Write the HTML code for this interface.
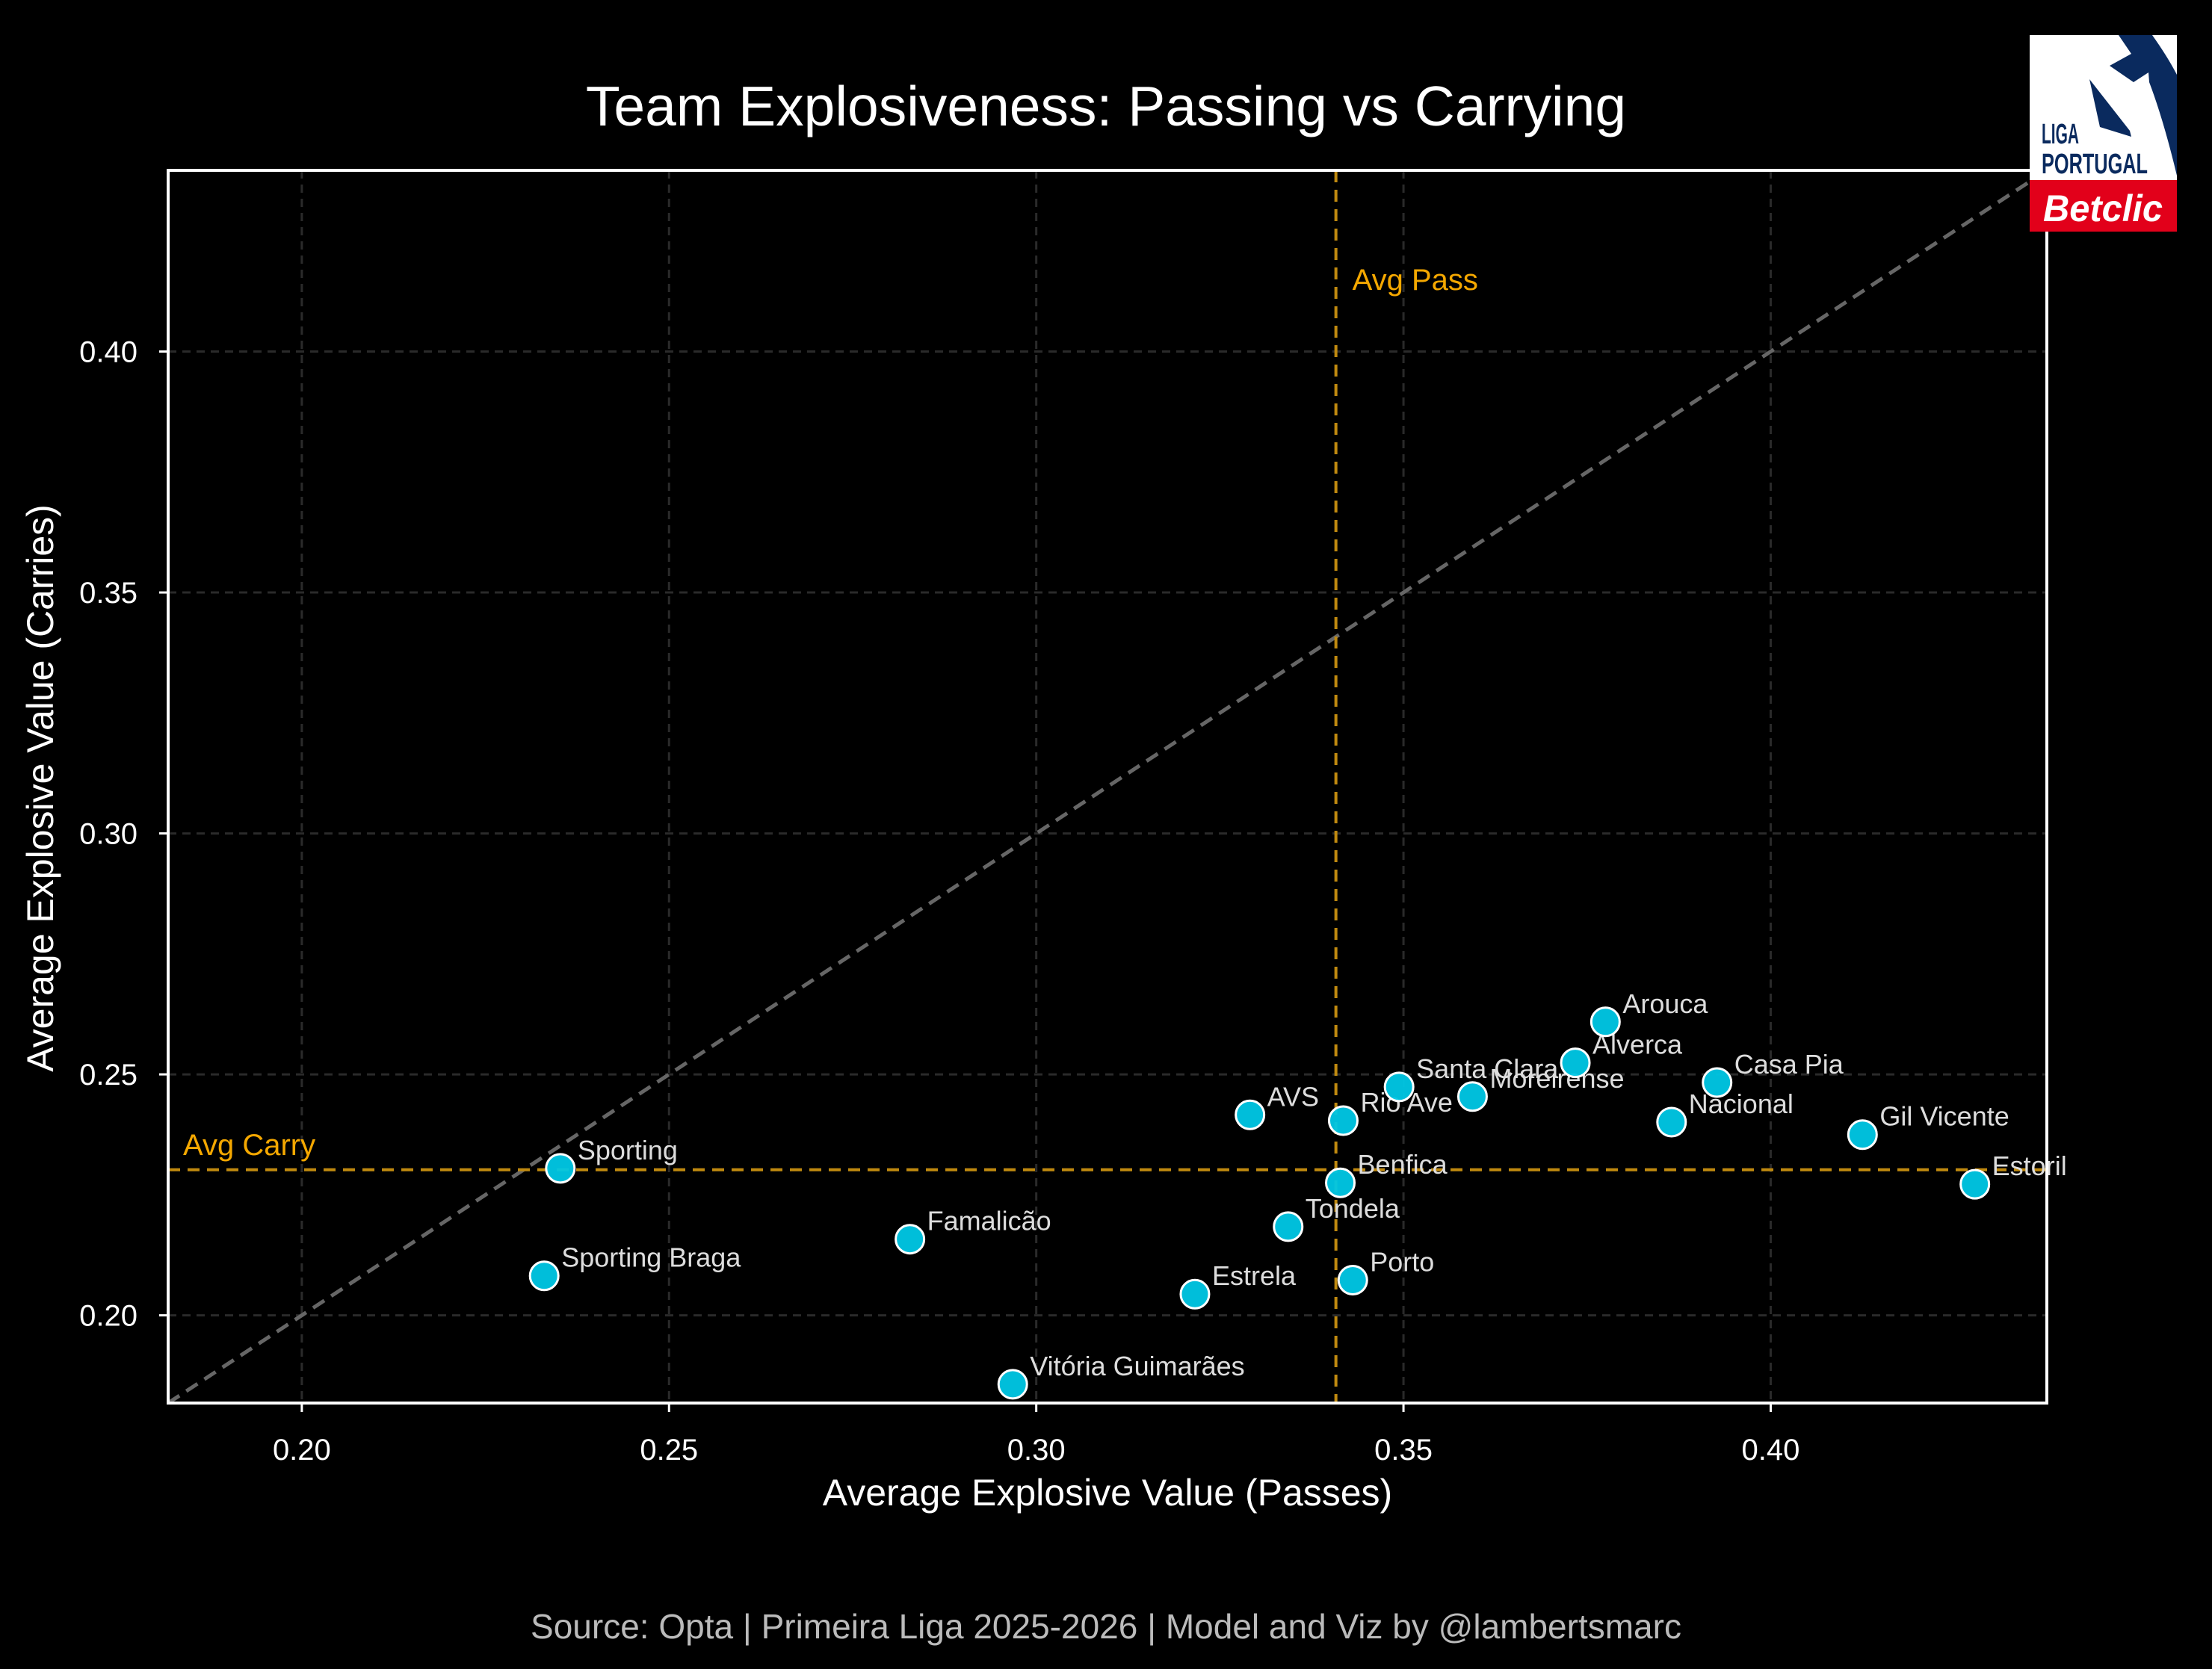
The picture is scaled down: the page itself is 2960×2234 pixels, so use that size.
<!DOCTYPE html>
<html><head><meta charset="utf-8"><style>
html,body{margin:0;padding:0;background:#000;}
svg{display:block;font-family:"Liberation Sans",Arial,sans-serif;}
</style></head><body>
<svg id="chart" width="2960" height="2234" viewBox="0 0 2960 2234" xmlns="http://www.w3.org/2000/svg">
<rect width="2960" height="2234" fill="#000"/>
<text x="1480" y="168" fill="#fff" font-size="75" text-anchor="middle">Team Explosiveness: Passing vs Carrying</text>
<g id="grid"></g>
<g id="lines"></g>
<g id="points"></g>
<rect x="225" y="228" width="2514" height="1650" fill="none" stroke="#fff" stroke-width="4"/>
<g id="ticks"></g>
<text x="1482" y="2015" fill="#fff" font-size="50" text-anchor="middle">Average Explosive Value (Passes)</text>
<text transform="translate(71,1055) rotate(-90)" fill="#fff" font-size="50" text-anchor="middle">Average Explosive Value (Carries)</text>
<text x="1480" y="2193" fill="#bbbbbb" font-size="46" text-anchor="middle">Source: Opta | Primeira Liga 2025-2026 | Model and Viz by @lambertsmarc</text>
<g>
<rect x="2716" y="47" width="197" height="194" fill="#fff"/>
<path d="M2835 47 L2880 47 Q2900 75 2913 100 L2913 235 Q2895 160 2876 110 L2875 97 L2855 110 L2823 88 L2852 72 Z" fill="#0a2a5e"/>
<path d="M2796 106 L2850 175 L2852 183 L2810 170 Z" fill="#0a2a5e"/>
<text x="2732" y="192" fill="#0a2a5e" font-size="38" font-weight="bold" textLength="50" lengthAdjust="spacingAndGlyphs">LIGA</text>
<text x="2732" y="232" fill="#0a2a5e" font-size="38" font-weight="bold" textLength="142" lengthAdjust="spacingAndGlyphs">PORTUGAL</text>
<rect x="2716" y="241" width="197" height="69" fill="#e2001a"/>
<text x="2814" y="296" fill="#fff" font-size="50" font-weight="bold" font-style="italic" text-anchor="middle" textLength="160" lengthAdjust="spacingAndGlyphs">Betclic</text>
</g>
</svg>
<script>
const teams=["Sporting","Sporting Braga","Famalicão","Vitória Guimarães","Estrela","AVS","Tondela","Rio Ave","Benfica","Porto","Santa Clara","Moreirense","Alverca","Arouca","Nacional","Casa Pia","Gil Vicente","Estoril"];
const passVals=[0.2352,0.2330,0.2828,0.2968,0.3216,0.3291,0.3343,0.3418,0.3414,0.3431,0.3494,0.3594,0.3734,0.3775,0.3865,0.3927,0.4125,0.4278];
const carryVals=[0.2305,0.2082,0.2158,0.1857,0.2044,0.2416,0.2184,0.2404,0.2275,0.2073,0.2474,0.2454,0.2524,0.2609,0.2401,0.2483,0.2375,0.2272];
const xTicks=[0.20,0.25,0.30,0.35,0.40];
const yTicks=[0.20,0.25,0.30,0.35,0.40];
const avgPass=[0.3408];
const avgCarry=[0.2302];
const MIN=0.1818,MAX=0.4376;
const L=225,R=2739,T=228,B=1878;
const sx=v=>L+(v-MIN)/(MAX-MIN)*(R-L);
const sy=v=>B-(v-MIN)/(MAX-MIN)*(B-T);
const NS="http://www.w3.org/2000/svg";
function mk(tag,attrs,parent){const e=document.createElementNS(NS,tag);for(const k in attrs)e.setAttribute(k,attrs[k]);document.getElementById(parent).appendChild(e);return e;}
xTicks.forEach(t=>{
 const g=mk('line',{x1:sx(t),x2:sx(t),y1:T,y2:B,stroke:'#2a2a2a','stroke-width':3,'stroke-dasharray':'11,8'},'grid');
 
 
 const k=mk('line',{x1:sx(t),x2:sx(t),y1:B,y2:B+12,stroke:'#fff','stroke-width':3},'ticks');
 
 
 const tx=mk('text',{x:sx(t),y:1954,fill:'#fff','font-size':40,'text-anchor':'middle'},'ticks');
 tx.textContent=t.toFixed(2);
 
 
});
yTicks.forEach(t=>{
 const g=mk('line',{x1:L,x2:R,y1:sy(t),y2:sy(t),stroke:'#2a2a2a','stroke-width':3,'stroke-dasharray':'11,8'},'grid');
 
 
 const k=mk('line',{x1:L-12,x2:L,y1:sy(t),y2:sy(t),stroke:'#fff','stroke-width':3},'ticks');
 
 
 const tx=mk('text',{x:L-41,y:sy(t)+14,fill:'#fff','font-size':40,'text-anchor':'end'},'ticks');
 tx.textContent=t.toFixed(2);
 
 
});
const d=mk('line',{x1:sx(MIN),y1:sy(MIN),x2:sx(MAX),y2:sy(MAX),stroke:'#666','stroke-width':5,'stroke-dasharray':'18,11'},'lines');


const vp=mk('line',{x1:sx(avgPass[0]),x2:sx(avgPass[0]),y1:T,y2:B,stroke:'#c08a10','stroke-width':4,'stroke-dasharray':'16,10'},'lines');


const hc=mk('line',{x1:L,x2:R,y1:sy(avgCarry[0]),y2:sy(avgCarry[0]),stroke:'#c08a10','stroke-width':4,'stroke-dasharray':'16,10'},'lines');


const pl=mk('text',{x:sx(avgPass[0])+22,y:388,fill:'#f5a800','font-size':40},'lines');
pl.textContent='Avg Pass';


const cl=mk('text',{x:245,y:sy(avgCarry[0])-20,fill:'#f5a800','font-size':40},'lines');
cl.textContent='Avg Carry';


teams.forEach((n,i)=>{
 const c=mk('circle',{cx:sx(passVals[i]),cy:sy(carryVals[i]),r:19,fill:'#00c8e6','fill-opacity':0.95,stroke:'#fff','stroke-width':3},'points');
 
 
 const t=mk('text',{x:sx(passVals[i])+23,y:sy(carryVals[i])-12,fill:'#dddddd','font-size':36},'points');
 t.textContent=n;
 
 
});
</script>
</body></html>
